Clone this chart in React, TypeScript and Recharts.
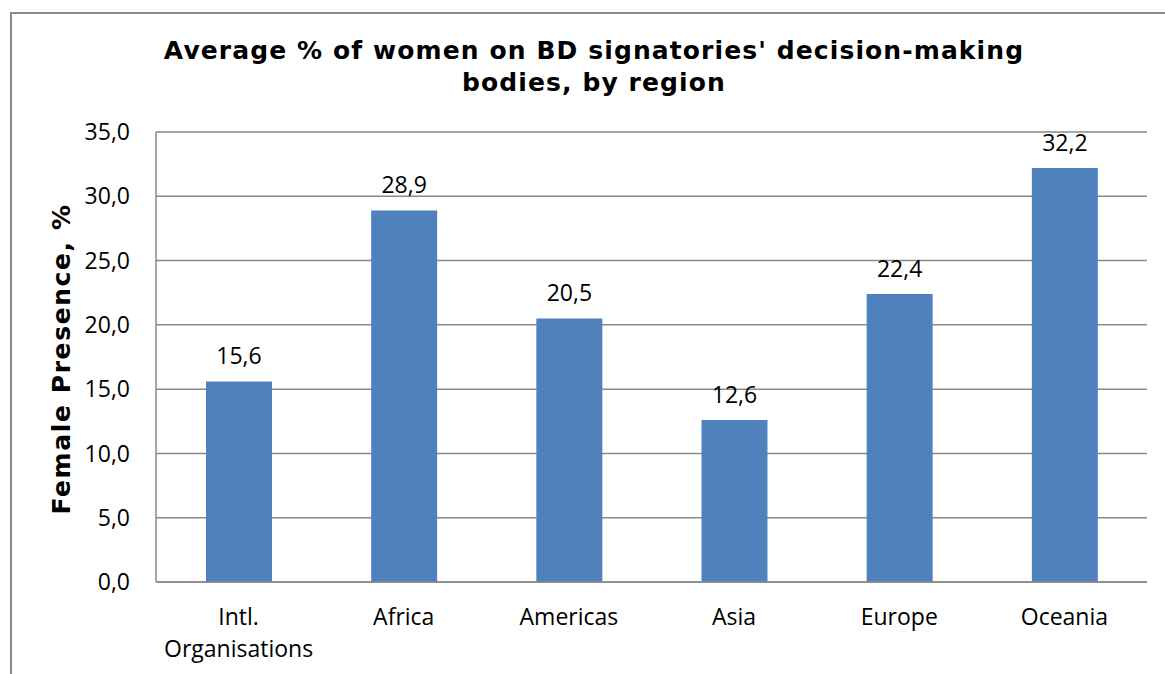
import { BarChart, Bar, XAxis, YAxis, CartesianGrid, LabelList } from 'recharts';

const regions = ['Intl.\nOrganisations', 'Africa', 'Americas', 'Asia', 'Europe', 'Oceania'];
const femaleShare = [15.6, 28.9, 20.5, 12.6, 22.4, 32.2];
const yTicks = [0, 5, 10, 15, 20, 25, 30, 35];

const data = regions.map((region, i) => ({ region, value: femaleShare[i] }));

const TICK_FONT = '"Open Sans", sans-serif';
const BOLD_FONT = '"DejaVu Sans", Verdana, sans-serif';
const fmt = (v: number) => v.toFixed(1).replace('.', ',');

function RegionTick({ x, y, payload }: any) {
  const lines = String(payload.value).split('\n');
  return (
    <text x={x} y={y} textAnchor="middle" fill="#000" fontSize={23} fontFamily={TICK_FONT}>
      {lines.map((line, i) => (
        <tspan key={i} x={x} y={y + 35 + i * 32}>
          {line}
        </tspan>
      ))}
    </text>
  );
}

export default function App() {
  return (
    <div style={{ position: 'fixed', left: 0, top: 0, width: 1165, height: 674, background: '#fff', overflow: 'hidden' }}>
      <div style={{ position: 'absolute', left: 10, top: 12, width: 1200, height: 700, border: '2px solid #898989' }} />
      <div
        style={{
          position: 'absolute', left: 0, width: 1188, top: 35, textAlign: 'center',
          fontFamily: BOLD_FONT, fontWeight: 'bold', fontSize: 25, letterSpacing: 1.1, lineHeight: '32px', color: '#000',
        }}
      >
        Average % of women on BD signatories' decision-making
        <br />
        bodies, by region
      </div>
      <div style={{ position: 'absolute', left: 0, top: 0 }}>
        <BarChart width={1165} height={674} data={data} margin={{ top: 132, right: 18, bottom: 32, left: 96 }}>
          <CartesianGrid vertical={false} stroke="#898989" strokeWidth={1.5} />
          <XAxis
            dataKey="region"
            tick={<RegionTick />}
            tickLine={false}
            axisLine={{ stroke: '#898989', strokeWidth: 1.5 }}
            height={60}
            interval={0}
          />
          <YAxis
            domain={[0, 35]}
            ticks={yTicks}
            tickFormatter={fmt}
            tick={{ fill: '#000', fontSize: 23, fontFamily: TICK_FONT }}
            tickLine={false}
            axisLine={{ stroke: '#898989', strokeWidth: 1.5 }}
            tickMargin={20}
            width={60}
            label={{
              value: 'Female Presence, %',
              angle: -90,
              position: 'left',
              offset: 0,
              content: () => (
                <text
                  x={61}
                  y={359}
                  transform="rotate(-90 61 359)"
                  textAnchor="middle"
                  dominantBaseline="central"
                  fontFamily={BOLD_FONT}
                  fontWeight="bold"
                  fontSize={25}
                  letterSpacing={1.6}
                  fill="#000"
                >
                  Female Presence, %
                </text>
              ),
            }}
          />
          <Bar dataKey="value" fill="#4F81BD" barSize={66} isAnimationActive={false}>
            <LabelList
              dataKey="value"
              position="top"
              offset={17}
              formatter={(v: any) => fmt(Number(v))}
              style={{ fill: '#000', fontSize: 23, fontFamily: TICK_FONT }}
            />
          </Bar>
        </BarChart>
      </div>
    </div>
  );
}
